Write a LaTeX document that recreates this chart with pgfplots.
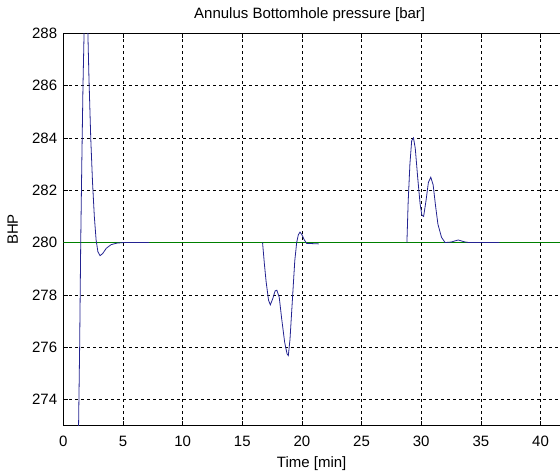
\documentclass[border=0pt]{standalone}
\usepackage{fontspec}
\setmainfont{Liberation Sans}
\usepackage{pgfplots}
\pgfplotsset{compat=1.18}
\definecolor{bhpblue}{RGB}{35,35,145}
\definecolor{refgreen}{RGB}{0,128,0}
\begin{document}
\fontsize{15bp}{17bp}\selectfont
\begin{tikzpicture}
\begin{axis}[
    scale only axis,
    width=496.7bp, height=392.4bp,
    xmin=0, xmax=41.63,
    ymin=273, ymax=288,
    axis x line*=box,
    axis y line*=left,
    xtick={0,5,...,40},
    ytick={274,276,...,288},
    tick align=inside,
    major tick length=5bp,
    tick style={black, line width=0.6pt},
    axis line style={black, line width=0.8pt},
    grid=major,
    major grid style={black, line width=0.6pt, dash pattern=on 3bp off 3bp},
    /pgf/number format/assume math mode=true,
    xticklabel style={yshift=-5bp},
    yticklabel style={xshift=-1bp},
    title={Annulus Bottomhole pressure [bar]},
    title style={at={(0.496,1)}, yshift=1bp},
    xlabel={Time [min]},
    ylabel={BHP},
    xlabel style={yshift=0bp},
    ylabel style={yshift=4bp},
]
% reference level
\addplot[refgreen, line width=1pt] coordinates {(0,280) (45,280)};
% first disturbance
\addplot[bhpblue, line width=0.8pt] coordinates {
(1.2,268) (1.28,273) (1.37,276) (1.46,280) (1.55,283) (1.65,286) (1.75,288.2)
(1.85,289.5) (1.95,289.5) (2.05,288.2) (2.15,286.3) (2.3,284) (2.45,282.3)
(2.6,281) (2.75,280.1) (2.9,279.65) (3.08,279.5) (3.3,279.58) (3.6,279.78)
(4.0,279.92) (4.5,279.98) (5.0,280) (7.2,280)};
% second disturbance
\addplot[bhpblue, line width=0.8pt] coordinates {
(16.7,280) (16.85,279.2) (17.0,278.5) (17.2,277.8) (17.35,277.62) (17.55,277.85)
(17.75,278.15) (17.9,278.18) (18.1,277.9) (18.3,277.1) (18.55,276.2) (18.75,275.75)
(18.86,275.68) (19.0,276.3) (19.2,277.8) (19.4,279.3) (19.56,280.0) (19.7,280.3)
(19.84,280.4) (20.0,280.3) (20.2,280.1) (20.4,279.97) (21.4,279.95)};
% third disturbance
\addplot[bhpblue, line width=0.8pt] coordinates {
(28.8,280) (28.9,281.5) (29.05,283) (29.2,283.9) (29.35,284) (29.5,283.6)
(29.7,282.5) (29.9,281.5) (30.05,281.05) (30.2,281.0) (30.4,281.6) (30.6,282.3)
(30.8,282.5) (31.0,282.2) (31.2,281.4) (31.4,280.7) (31.7,280.2) (32.0,280.0)
(32.5,280.02) (33.1,280.1) (33.6,280.03) (34,280) (36.55,280)};
\end{axis}
\pgfresetboundingbox
\path[use as bounding box] (-63.3bp,-48.3bp) rectangle (496.7bp,425.7bp);
\end{tikzpicture}
\end{document}
